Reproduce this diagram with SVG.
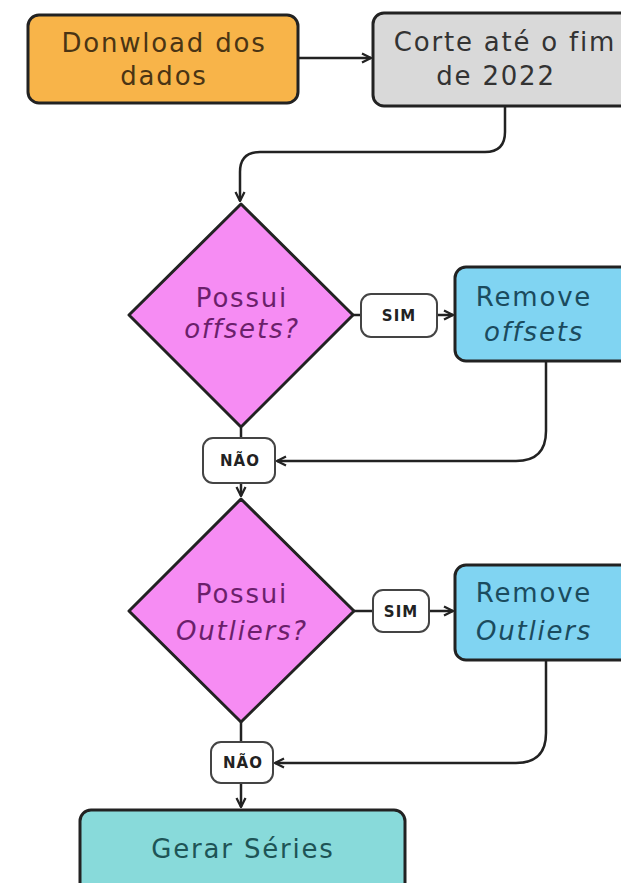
<svg xmlns="http://www.w3.org/2000/svg" width="621" height="883" viewBox="0 0 621 883">
<defs>
<marker id="ah" viewBox="0 0 10 10" refX="9" refY="5" markerWidth="4.5" markerHeight="4.5" orient="auto" markerUnits="strokeWidth">
<path d="M1,1 L9,5 L1,9" fill="none" stroke="#222" stroke-width="2"/>
</marker>
<style>
.box{stroke:#222;stroke-width:3}
.lbl{fill:#fff;stroke:#444;stroke-width:2}
.t{font-family:"DejaVu Sans","Noto Sans",sans-serif;font-size:26px;letter-spacing:1.8px;text-anchor:middle}
.s{font-family:"DejaVu Sans","Noto Sans",sans-serif;font-size:15px;font-weight:bold;letter-spacing:1px;text-anchor:middle;fill:#222}
.c{fill:none;stroke:#222;stroke-width:2.5}
</style>
</defs>
<rect width="621" height="883" fill="#fff"/>
<g id="connectors">
<path class="c" d="M298,58 H371" marker-end="url(#ah)"/>
<path class="c" d="M505,107 V132 Q505,152 485,152 H260 Q240,152 240,172 V201" marker-end="url(#ah)"/>
<path class="c" d="M353,315 H361"/>
<path class="c" d="M437,315 H453" marker-end="url(#ah)"/>
<path class="c" d="M546,361 V431 Q546,461 516,461 H277" marker-end="url(#ah)"/>
<path class="c" d="M241,428 V438"/>
<path class="c" d="M241,483 V496" marker-end="url(#ah)"/>
<path class="c" d="M354,611 H373"/>
<path class="c" d="M429,611 H453" marker-end="url(#ah)"/>
<path class="c" d="M546,660 V733 Q546,763 516,763 H275" marker-end="url(#ah)"/>
<path class="c" d="M241,722 V742"/>
<path class="c" d="M241,783 V807" marker-end="url(#ah)"/>
</g>
<g id="download">
<rect class="box" x="28" y="15" width="270" height="88" rx="11" fill="#F8B449"/>
<text class="t" x="164" y="52" fill="#4A3414">Donwload dos</text>
<text class="t" x="164" y="85" fill="#4A3414">dados</text>
</g>
<g id="corte">
<rect class="box" x="373" y="13" width="270" height="93" rx="11" fill="#D9D9D9"/>
<text class="t" x="505" y="51" fill="#333">Corte até o fim</text>
<text class="t" x="496" y="85" fill="#333">de 2022</text>
</g>
<g id="dec1">
<path class="box" d="M241,204 L353,315 L241,427 L129,315 Z" stroke-linejoin="round" fill="#F68CF3"/>
<text class="t" x="242" y="307" fill="#6B1F6B">Possui</text>
<text class="t" x="242" y="338" fill="#6B1F6B" font-style="italic">offsets?</text>
</g>
<g id="sim1">
<rect class="lbl" x="361" y="294" width="76" height="43" rx="10"/>
<text class="s" x="399" y="321">SIM</text>
</g>
<g id="remove-offsets">
<rect class="box" x="455" y="267" width="190" height="94" rx="11" fill="#80D4F2"/>
<text class="t" x="534" y="306" fill="#1B4B5E">Remove</text>
<text class="t" x="534" y="341" fill="#1B4B5E" font-style="italic">offsets</text>
</g>
<g id="nao1">
<rect class="lbl" x="203" y="438" width="72" height="45" rx="10"/>
<text class="s" x="240" y="466">NÃO</text>
</g>
<g id="dec2">
<path class="box" d="M241,499 L354,611 L241,722 L129,611 Z" stroke-linejoin="round" fill="#F68CF3"/>
<text class="t" x="242" y="603" fill="#6B1F6B">Possui</text>
<text class="t" x="242" y="640" fill="#6B1F6B" font-style="italic">Outliers?</text>
</g>
<g id="sim2">
<rect class="lbl" x="373" y="590" width="56" height="42" rx="10"/>
<text class="s" x="401" y="617">SIM</text>
</g>
<g id="remove-outliers">
<rect class="box" x="455" y="565" width="190" height="95" rx="11" fill="#80D4F2"/>
<text class="t" x="534" y="602" fill="#1B4B5E">Remove</text>
<text class="t" x="534" y="640" fill="#1B4B5E" font-style="italic">Outliers</text>
</g>
<g id="nao2">
<rect class="lbl" x="211" y="742" width="62" height="41" rx="10"/>
<text class="s" x="243" y="768">NÃO</text>
</g>
<g id="gerar">
<rect class="box" x="80" y="810" width="325" height="90" rx="11" fill="#88DADA"/>
<text class="t" x="243" y="858" fill="#1E5456">Gerar Séries</text>
</g>
</svg>
